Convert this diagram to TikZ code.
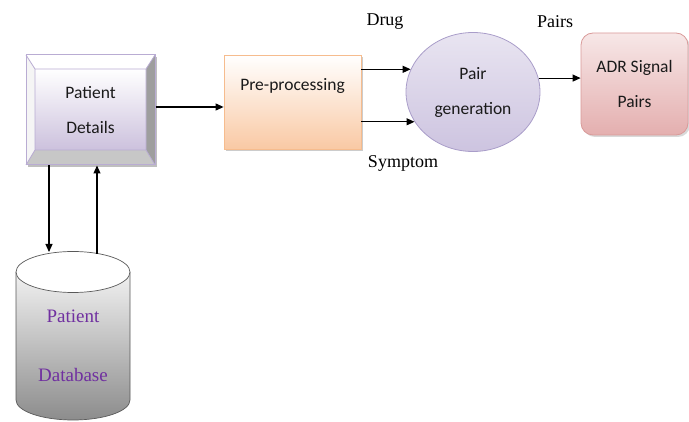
\documentclass[tikz,border=0pt]{standalone}
\usepackage{fontspec}
\setmainfont{Liberation Serif}
\newfontfamily\boxfont{Carlito}
\usetikzlibrary{arrows.meta,shapes.geometric,calc}
\definecolor{lavborder}{HTML}{B9ACD3}
\definecolor{lavface}{HTML}{CCC1DD}
\definecolor{peach}{HTML}{F9C9A4}
\definecolor{peachborder}{HTML}{F6BC8E}
\definecolor{pinkfill}{HTML}{E4AFAF}
\definecolor{pinkborder}{HTML}{D99A99}
\definecolor{ellface}{HTML}{CDC4E0}
\definecolor{ellborder}{HTML}{A99DC9}
\definecolor{dbpurple}{HTML}{7030A0}
\definecolor{txt}{HTML}{1A1A1A}
\tikzset{
  x=1pt,y=1pt,
  arr/.style={line width=1.1pt,-{Triangle[length=8pt,width=7pt]}},
  boxtext/.style={font=\boxfont\fontsize{17.5}{35}\selectfont,text=txt,align=center,inner sep=0pt},
  serlabel/.style={font=\fontsize{18}{20}\selectfont,text=black,inner sep=0pt},
}
\begin{document}
\begin{tikzpicture}
\useasboundingbox (0,0) rectangle (689,-422);
% ---- Patient Details bevel box
\fill[black!25] (28,-57) rectangle (157,-167);
\fill[white] (26,-55) -- (155,-55) -- (146,-69) -- (35,-69) -- cycle;
\fill[black!4] (26,-55) -- (35,-69) -- (35,-150) -- (26,-165) -- cycle;
\fill[black!38] (155,-55) -- (155,-165) -- (146,-150) -- (146,-69) -- cycle;
\fill[black!22] (26,-165) -- (155,-165) -- (146,-150) -- (35,-150) -- cycle;
\shade[top color=white,bottom color=lavface] (35,-69) rectangle (146,-150);
\draw[lavborder,line width=0.8pt] (35,-69) rectangle (146,-150)
  (26,-55) -- (35,-69) (155,-55) -- (146,-69) (26,-165) -- (35,-150) (155,-165) -- (146,-150);
\node[boxtext,draw=lavborder,line width=1pt,minimum width=129pt,minimum height=110pt] (pd) at (90.5,-110) {Patient\\Details};
% ---- Pre-processing
\fill[black!20] (226,-57) rectangle (363,-151);
\node[boxtext,draw=peachborder,line width=0.8pt,top color=white,bottom color=peach,
  minimum width=137pt,minimum height=94pt] (pp) at (292.5,-102) {Pre-processing\\[0pt]\phantom{P}};
% ---- Pair generation
\node[boxtext,ellipse,draw=ellborder,line width=0.8pt,top color=ellface!45,bottom color=ellface,
  minimum width=134pt,minimum height=119pt] (pg) at (473,-92) {Pair\\generation};
% ---- ADR Signal Pairs
\fill[black!15,rounded corners=12pt] (583,-35) rectangle (690,-137);
\node[boxtext,draw=pinkborder,line width=0.8pt,rounded corners=12pt,top color=white!70!pinkfill,bottom color=pinkfill,
  minimum width=107pt,minimum height=102pt] (adr) at (634.5,-84) {ADR Signal\\Pairs};
% ---- Patient Database cylinder
\shade[top color=white,bottom color=black!45]
  (16,-272) -- (16,-400) arc[start angle=180,end angle=360,x radius=57,y radius=20]
  -- (130,-272) arc[start angle=0,end angle=180,x radius=57,y radius=20] -- cycle;
\draw[black!65,line width=0.7pt]
  (16,-272) -- (16,-400) arc[start angle=180,end angle=360,x radius=57,y radius=20] -- (130,-272);
\draw[black!65,line width=0.7pt,fill=white] (73,-272) ellipse[x radius=57,y radius=20.5];
\node[font=\fontsize{19}{59}\selectfont,text=dbpurple,align=center,inner sep=0pt] (db) at (73,-345.5) {Patient\\Database};
\coordinate (dbinL) at (49,-252);
\coordinate (dbinR) at (97,-254);
% ---- labels
\node[serlabel] (drug) at (385,-22) {Drug};
\node[serlabel] (symptom) at (403,-163) {Symptom};
\node[serlabel] (pairs) at (555,-22) {Pairs};
% ---- connectors
\draw[arr] ([yshift=3pt]pd.east) -- ([yshift=3pt]pd.east -| pp.west);
\draw[arr] (pp.east |- pg.160.5) -- (pg.160.5);
\draw[arr] (pp.east |- pg.207.3) -- (pg.207.3);
\draw[arr] (pg.12) -- (pg.12 -| adr.west);
\draw[arr] ([xshift=-41.5pt]pd.south) -- (dbinL);
\draw[arr] (dbinR) -- ([xshift=6.5pt]pd.south);
\end{tikzpicture}
\end{document}
